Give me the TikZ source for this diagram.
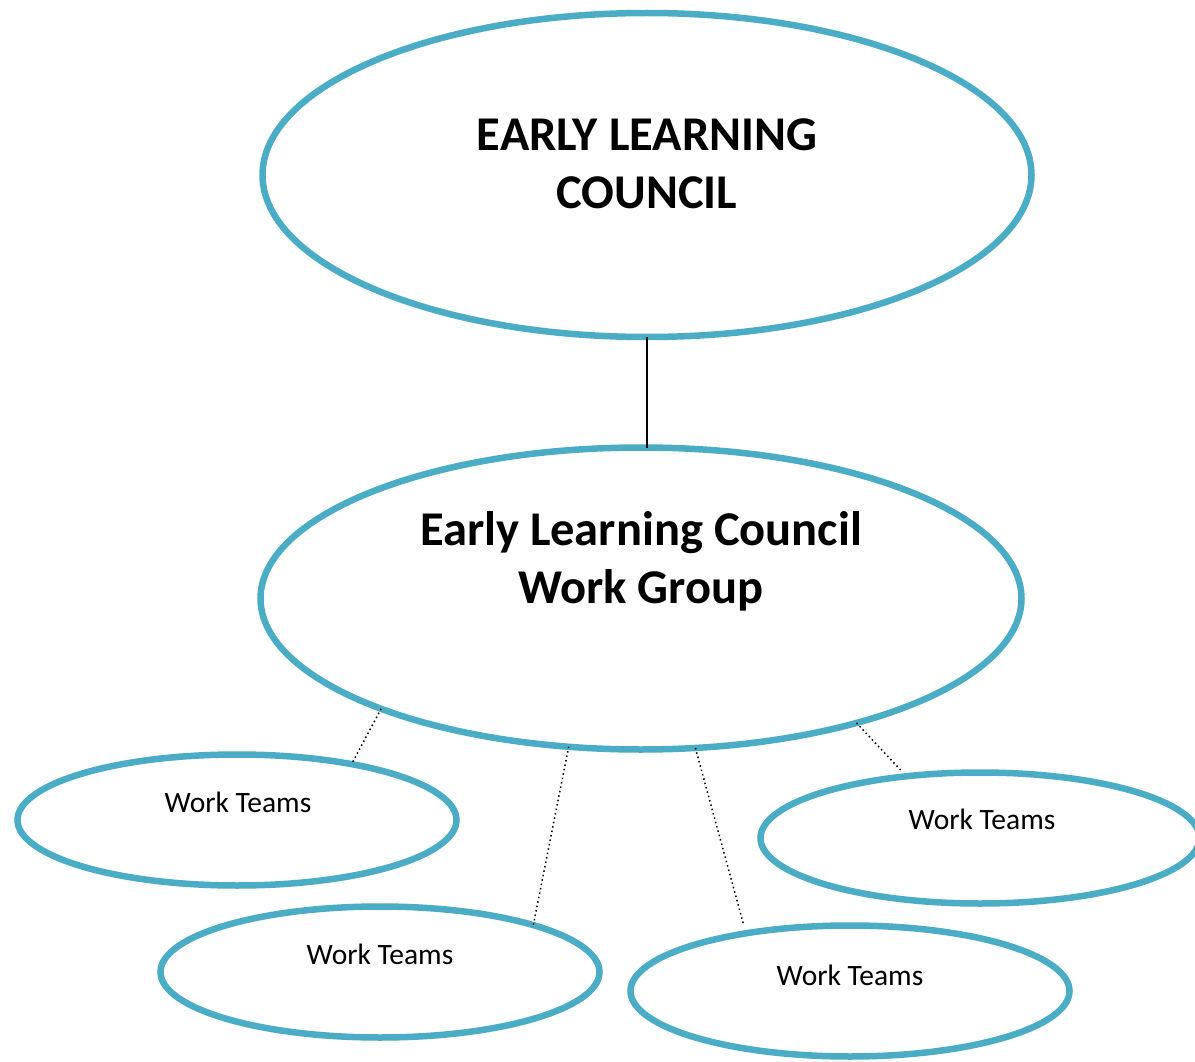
\documentclass[tikz,border=0pt]{standalone}
\usepackage{fontspec}
\setmainfont{Carlito}
\usepackage{xcolor}
\definecolor{ringblue}{RGB}{75,172,198}
\usetikzlibrary{shapes.geometric}

\begin{document}
\begin{tikzpicture}[x=1pt,y=-1pt,
  bubble/.style={ellipse,draw=ringblue,line width=6.5pt,inner sep=0pt,outer sep=0pt},
  team/.style={bubble,minimum width=439pt,minimum height=131pt},
  bigtext/.style={align=center,font=\fontsize{48.5}{58}\selectfont\bfseries},
  teamtext/.style={font=\fontsize{29.5}{34}\selectfont},
  link/.style={black,line width=1.5pt,dash pattern=on 1.5pt off 3pt}]
\useasboundingbox (0,0) rectangle (1195,1062);

% council and work group
\node[bubble,minimum width=769pt,minimum height=324pt] (council) at (647,175) {};
\node[bigtext] (councilText) at (647,164) {EARLY LEARNING\\COUNCIL};
\node[bubble,minimum width=761pt,minimum height=302pt] (group) at (641,598.5) {};
\node[bigtext] (groupText) at (641,561) {Early Learning Council\\Work Group};

% work teams
\node[team] (teamA) at (237,820) {};
\node[team] (teamB) at (380,972) {};
\node[team] (teamC) at (850,991) {};
\node[team] (teamD) at (980,838) {};
\node[teamtext] (teamAText) at (238,802) {Work Teams};
\node[teamtext] (teamBText) at (380,954) {Work Teams};
\node[teamtext] (teamCText) at (850,975) {Work Teams};
\node[teamtext] (teamDText) at (982,819) {Work Teams};

% connectors
\draw[line width=1.5pt] (council.south) -- (council.south |- group.north);
\draw[link] (group.203.3) -- (teamA.26);
\draw[link] (group.244.8) -- (teamB.17.4);
\draw[link,shorten >=10pt] (group.290.2) -- (teamC.151);
\draw[link,shorten >=8pt] (group.330) -- (teamD.140);

\end{tikzpicture}
\end{document}
